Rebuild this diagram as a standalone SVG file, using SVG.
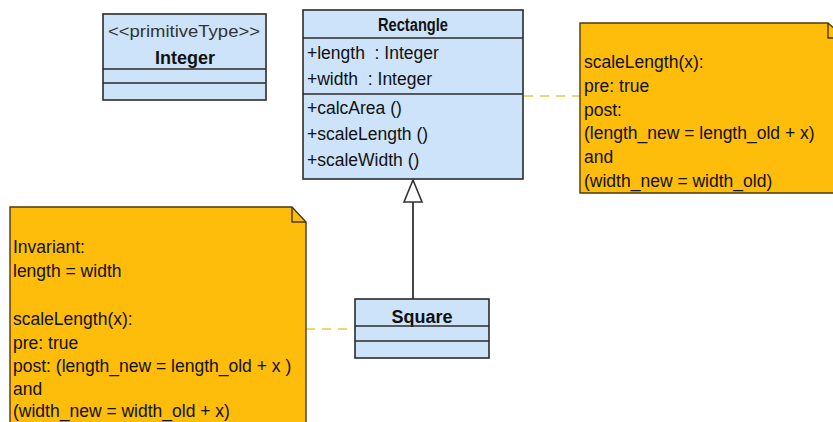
<svg xmlns="http://www.w3.org/2000/svg" width="833" height="422" viewBox="0 0 833 422">
<style>
.cls{fill:#cde3f9;stroke:#2b2b2b;stroke-width:1.6}
.div{stroke:#2b2b2b;stroke-width:1.6}
.note{fill:#fdbd0a;stroke:#4a3a10;stroke-width:1.4}
.t{font-family:"Liberation Sans",Arial,sans-serif;font-size:17.5px;fill:#111;white-space:pre}
.b{font-family:"Liberation Sans",Arial,sans-serif;font-size:18px;font-weight:bold;fill:#111;text-anchor:middle}
.st{font-family:"Liberation Sans",Arial,sans-serif;font-size:17px;fill:#333;text-anchor:middle}
.dash{stroke:#e9c94a;stroke-width:1.6;stroke-dasharray:9 7;fill:none}
</style>
<rect width="833" height="422" fill="#ffffff"/>
<g id="connectors">
<line class="dash" x1="524" y1="96" x2="580" y2="96"/>
<line class="dash" x1="306" y1="329" x2="355" y2="329"/>
<line x1="413" y1="299" x2="413" y2="202" stroke="#333" stroke-width="1.8"/>
<polygon points="413,180 404,202 422,202" fill="#fff" stroke="#333" stroke-width="1.6"/>
</g>
<g id="integer">
<rect class="cls" x="103" y="14" width="163" height="86"/>
<text class="st" x="184" y="37" textLength="152" lengthAdjust="spacingAndGlyphs">&lt;&lt;primitiveType&gt;&gt;</text>
<text class="b" x="185" y="64">Integer</text>
<line class="div" x1="103" y1="69" x2="266" y2="69"/>
<line class="div" x1="103" y1="83" x2="266" y2="83"/>
</g>
<g id="rectangle">
<rect class="cls" x="303" y="10" width="220" height="169"/>
<text class="b" x="413" y="31" font-size="16.5" textLength="70" lengthAdjust="spacingAndGlyphs">Rectangle</text>
<line class="div" x1="303" y1="38" x2="523" y2="38"/>
<text class="t" x="307" y="59">+length  : Integer</text>
<text class="t" x="307" y="85">+width  : Integer</text>
<line class="div" x1="303" y1="94" x2="523" y2="94"/>
<text class="t" x="307" y="114">+calcArea ()</text>
<text class="t" x="307" y="140">+scaleLength ()</text>
<text class="t" x="307" y="166">+scaleWidth ()</text>
</g>
<g id="square">
<rect class="cls" x="355" y="299" width="134" height="59"/>
<text class="b" x="422" y="323">Square</text>
<line class="div" x1="355" y1="326" x2="489" y2="326"/>
<line class="div" x1="355" y1="341" x2="489" y2="341"/>
</g>
<g id="note-rectangle">
<path class="note" d="M580,23 H828 L845,38 V193 H580 Z"/>
<path d="M828,23 V38 H845" fill="none" stroke="#4a3a10" stroke-width="1.4"/>
<text class="t" x="584" y="68">scaleLength(x):</text>
<text class="t" x="584" y="92">pre: true</text>
<text class="t" x="584" y="116">post:</text>
<text class="t" x="584" y="139">(length_new = length_old + x)</text>
<text class="t" x="584" y="163">and</text>
<text class="t" x="584" y="187">(width_new = width_old)</text>
</g>
<g id="note-square">
<path class="note" d="M10,207 H292 L306,222 V430 H10 Z"/>
<path d="M292,207 V222 H306" fill="none" stroke="#4a3a10" stroke-width="1.4"/>
<text class="t" x="13" y="253">Invariant:</text>
<text class="t" x="13" y="277">length = width</text>
<text class="t" x="13" y="325">scaleLength(x):</text>
<text class="t" x="13" y="349">pre: true</text>
<text class="t" x="13" y="372">post: (length_new = length_old + x )</text>
<text class="t" x="13" y="395">and</text>
<text class="t" x="13" y="417">(width_new = width_old + x)</text>
</g>
</svg>
